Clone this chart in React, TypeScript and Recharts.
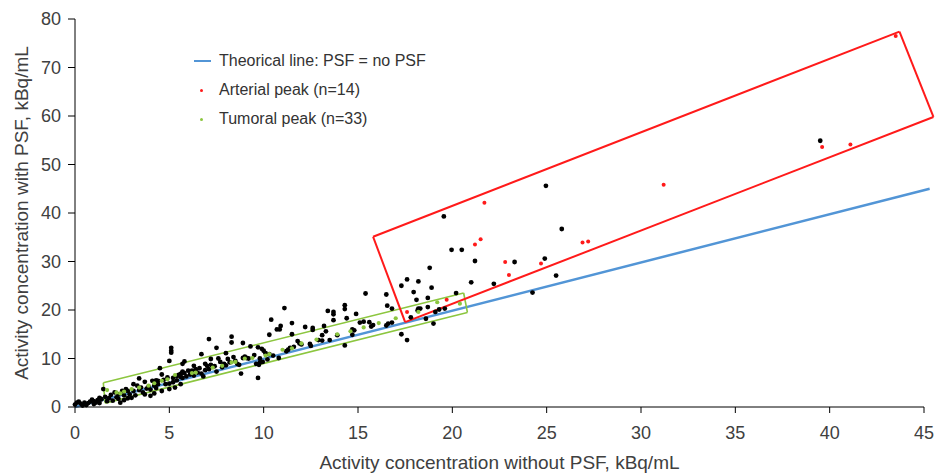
import { ScatterChart, Scatter, XAxis, YAxis, ReferenceLine, Legend } from "recharts"

const FONT = '"Liberation Sans", Arial, Helvetica, sans-serif'

const X_TICKS = [0, 5, 10, 15, 20, 25, 30, 35, 40, 45]
const Y_TICKS = [0, 10, 20, 30, 40, 50, 60, 70, 80]

// points outside the two peak groups (black)
const OTHER_POINTS: [number, number][] = [
  [0.0, 0.5], [0.1, 0.9], [0.3, 0.7], [0.2, 1.1], [0.5, 0.9], [0.6, 0.4], [0.8, 1.1], [1.0, 1.2],
  [1.0, 0.6], [1.2, 1.4], [1.3, 0.8], [1.4, 1.6], [1.5, 3.7], [1.6, 2.1], [1.8, 1.8], [1.9, 2.5],
  [2.0, 1.3], [2.1, 3.0], [2.3, 2.6], [2.4, 0.9], [2.5, 3.3], [2.6, 1.4], [2.7, 3.7], [2.8, 3.3],
  [2.9, 2.6], [3.0, 1.9], [3.1, 4.7], [3.3, 4.4], [3.4, 5.9], [3.5, 4.0], [3.6, 3.0], [3.7, 2.6],
  [3.7, 5.2], [3.9, 4.2], [4.0, 2.3], [4.1, 5.4], [4.2, 2.8], [4.2, 4.4], [4.3, 5.5], [4.4, 4.7],
  [4.4, 5.4], [4.5, 8.0], [4.6, 3.3], [4.6, 6.7], [4.8, 4.7], [5.0, 3.7], [5.0, 4.8], [5.0, 9.5],
  [5.1, 12.2], [5.1, 11.6], [5.1, 11.2], [5.2, 6.0], [5.3, 4.0], [5.4, 6.4], [5.6, 4.7], [5.6, 6.8],
  [5.7, 8.9], [5.8, 9.4], [5.7, 7.1], [5.5, 6.6], [5.6, 6.2], [5.7, 6.0], [5.7, 7.3], [5.8, 7.0],
  [6.0, 7.5], [6.2, 7.5], [6.3, 8.5], [6.4, 7.8], [6.5, 7.1], [6.7, 6.9], [6.7, 10.9], [6.8, 6.3],
  [6.9, 8.9], [7.0, 8.5], [7.1, 14.0], [7.2, 8.7], [7.2, 9.9], [7.5, 7.3], [7.5, 12.2], [7.6, 10.0],
  [7.8, 8.2], [7.9, 8.9], [8.0, 11.1], [8.1, 9.9], [8.2, 9.2], [8.3, 14.5], [8.3, 13.3], [8.5, 9.5],
  [8.6, 8.9], [8.7, 8.7], [8.8, 6.9], [8.9, 10.1], [8.9, 13.2], [9.0, 10.4], [9.1, 10.1], [9.2, 10.0],
  [9.3, 12.5], [9.5, 10.7], [9.6, 8.9], [9.7, 12.3], [9.7, 6.0], [9.75, 8.7], [9.8, 10.0], [9.8, 9.2],
  [9.9, 12.0], [9.95, 9.3], [10.0, 11.6], [10.1, 11.1], [10.2, 9.8], [10.3, 10.9], [10.3, 14.9],
  [10.4, 18.0], [10.5, 10.6], [10.7, 16.0], [10.8, 10.1], [10.85, 16.0], [10.9, 16.7], [11.1, 20.4],
  [11.2, 11.5], [11.3, 11.8], [11.4, 12.2], [11.5, 17.3], [11.5, 15.0], [11.6, 12.4], [11.8, 13.6],
  [11.9, 13.1], [12.0, 12.9], [12.2, 16.5], [12.45, 13.0], [12.5, 12.6], [12.6, 16.3], [12.6, 15.9],
  [12.9, 13.8], [13.1, 13.7], [13.1, 14.8], [13.2, 16.7], [13.3, 15.6], [13.4, 19.8], [13.5, 13.8],
  [13.7, 19.6], [13.7, 19.1], [13.7, 17.9], [13.9, 14.8], [14.3, 21.0], [14.3, 20.2], [14.3, 12.7],
  [14.4, 18.3], [14.7, 16.0], [14.7, 14.9], [14.8, 15.8], [14.9, 19.2], [15.1, 17.4], [15.3, 17.6],
  [15.4, 23.4], [15.6, 17.5], [15.7, 16.6], [15.8, 16.9], [16.5, 23.2], [16.5, 16.8], [16.55, 20.9],
  [16.6, 17.2], [16.8, 20.3], [16.8, 17.4], [17.3, 25.0], [17.3, 15.0], [17.6, 26.3], [17.6, 13.8],
  [17.8, 18.5], [17.95, 23.7], [18.1, 22.1], [18.16, 19.9], [18.2, 25.9], [18.2, 20.3], [18.3, 20.3],
  [18.6, 18.2], [18.7, 22.5], [18.7, 20.6], [18.8, 28.7], [18.9, 24.6], [19.0, 17.2], [19.1, 19.6],
  [19.3, 20.1], [19.55, 39.3], [19.6, 20.3], [19.96, 32.4], [20.2, 23.5], [20.5, 32.4], [21.0, 25.7],
  [21.2, 30.1], [22.2, 25.4], [23.3, 29.9], [24.25, 23.6], [24.9, 30.6], [24.96, 45.6], [25.5, 27.1],
  [25.8, 36.7], [39.5, 54.9],
  // extra points in the dense band near the origin
  [0.4, 0.3], [0.7, 0.8], [0.9, 1.5], [1.1, 0.9], [1.3, 1.9], [1.7, 1.2], [2.2, 2.0], [2.3, 1.7],
  [2.6, 2.4], [2.8, 1.8], [3.1, 3.3], [3.2, 2.4], [3.4, 3.5], [3.8, 3.8], [4.0, 3.6], [4.3, 3.9],
  [4.7, 5.6], [4.9, 6.1], [5.2, 5.1], [5.4, 5.5], [5.9, 6.3], [6.1, 6.7], [6.3, 6.5], [6.6, 8.0],
  [6.9, 7.6], [7.1, 7.8], [7.4, 8.4], [7.7, 9.3], [8.0, 8.6], [8.4, 10.3],
]

const ARTERIAL_POINTS: [number, number][] = [
  [17.6, 19.6], [19.7, 22.1], [21.2, 33.5], [21.5, 34.6], [21.7, 42.1], [22.8, 29.9], [23.0, 27.2],
  [24.7, 29.6], [26.9, 33.9], [27.2, 34.1], [31.2, 45.8], [39.6, 53.6], [41.1, 54.1], [43.5, 76.5],
]

const TUMORAL_POINTS: [number, number][] = [
  [1.7, 3.5], [2.2, 3.0], [2.4, 2.8], [2.6, 3.2], [3.0, 3.7], [3.4, 4.0], [3.9, 4.4], [4.2, 4.9],
  [4.6, 5.4], [4.9, 5.7], [5.3, 6.6], [6.2, 7.0], [6.4, 7.1], [7.3, 8.1], [7.8, 8.5], [8.3, 9.2],
  [8.5, 9.3], [9.0, 10.0], [9.4, 10.1], [10.1, 10.6], [10.3, 10.9], [11.0, 11.8], [11.5, 12.1],
  [12.0, 13.1], [12.8, 13.9], [13.9, 15.0], [14.6, 15.6], [15.3, 16.4], [16.1, 17.3], [17.0, 18.3],
  [18.2, 19.6], [19.2, 21.6], [20.4, 21.3],
]

const IDENTITY_LINE: [number, number][] = [[0, 0], [45.3, 45.0]]
const ARTERIAL_BOX: [number, number][] = [[15.8, 35.1], [43.7, 77.4], [45.5, 59.8], [17.5, 17.5]]
const TUMORAL_BOX: [number, number][] = [[1.5, 5.0], [20.6, 23.5], [20.8, 19.5], [1.6, 0.8]]

const LEGEND_ITEMS = [
  { label: "Theorical line: PSF = no PSF", color: "#5295d6", kind: "line" },
  { label: "Arterial peak (n=14)", color: "#ff1a1a", kind: "dot" },
  { label: "Tumoral peak (n=33)", color: "#8cc63f", kind: "dot" },
]

const toXY = (pts: [number, number][]) => pts.map(([x, y]) => ({ x, y }))

const boxEdges = (box: [number, number][]) =>
  box.map((p, i) => {
    const q = box[(i + 1) % box.length]
    return [{ x: p[0], y: p[1] }, { x: q[0], y: q[1] }]
  })

const dot = (r: number, fill: string) => (props: any) =>
  <circle cx={props.cx} cy={props.cy} r={r} fill={fill} />

function LegendBox() {
  return (
    <div style={{ fontFamily: FONT, fontSize: 16, color: "#333" }}>
      {LEGEND_ITEMS.map(item => (
        <div key={item.label} style={{ height: 29, display: "flex", alignItems: "center" }}>
          <div style={{ width: 29, position: "relative", height: 29 }}>
            {item.kind === "line" ? (
              <div style={{ position: "absolute", left: 4, top: 13.5, width: 17, height: 2, background: item.color }} />
            ) : (
              <div style={{ position: "absolute", left: 9.5, top: 13, width: 3.5, height: 3.5, borderRadius: 2, background: item.color }} />
            )}
          </div>
          <span>{item.label}</span>
        </div>
      ))}
    </div>
  )
}

export default function App() {
  return (
    <div style={{ position: "absolute", left: 0, top: 0, background: "#fff" }}>
      <ScatterChart
        width={936}
        height={474}
        margin={{ top: 19, right: 12, bottom: 27, left: 15 }}
        style={{ fontFamily: FONT }}
      >
        <XAxis
          type="number"
          dataKey="x"
          domain={[0, 45]}
          ticks={X_TICKS}
          height={40}
          tickSize={6}
          tickMargin={13}
          stroke="#000"
          tick={{ fill: "#404040", fontSize: 18 }}
          label={{ value: "Activity concentration without PSF, kBq/mL", position: "bottom", offset: 9, fill: "#404040", fontSize: 19 }}
        />
        <YAxis
          type="number"
          dataKey="y"
          domain={[0, 80]}
          ticks={Y_TICKS}
          width={60}
          tickSize={7}
          tickMargin={7}
          stroke="#000"
          tick={{ fill: "#404040", fontSize: 18 }}
          label={{ value: "Activity concentration with PSF, kBq/mL", angle: -90, position: "insideLeft", offset: 6, fill: "#404040", fontSize: 19, style: { textAnchor: "middle" } }}
        />
        <Scatter data={toXY(OTHER_POINTS)} shape={dot(2.4, "#000")} isAnimationActive={false} legendType="none" />
        <Scatter data={toXY(TUMORAL_POINTS)} shape={dot(2.1, "#8cc63f")} isAnimationActive={false} legendType="none" />
        <Scatter data={toXY(ARTERIAL_POINTS)} shape={dot(2, "#ff1a1a")} isAnimationActive={false} legendType="none" />
        <ReferenceLine
          segment={[{ x: IDENTITY_LINE[0][0], y: IDENTITY_LINE[0][1] }, { x: IDENTITY_LINE[1][0], y: IDENTITY_LINE[1][1] }]}
          stroke="#5295d6"
          strokeWidth={2.5}
          ifOverflow="visible"
        />
        {boxEdges(TUMORAL_BOX).map((seg, i) => (
          <ReferenceLine key={`t-${i}`} segment={seg} stroke="#8cc63f" strokeWidth={1.6} ifOverflow="visible" />
        ))}
        {boxEdges(ARTERIAL_BOX).map((seg, i) => (
          <ReferenceLine key={`a-${i}`} segment={seg} stroke="#ff1a1a" strokeWidth={2} ifOverflow="visible" />
        ))}
        <Legend
          layout="vertical"
          align="center"
          verticalAlign="middle"
          content={() => <LegendBox />}
          wrapperStyle={{ left: 190, top: 46.5, width: 320, height: 87 }}
        />
      </ScatterChart>
    </div>
  )
}
